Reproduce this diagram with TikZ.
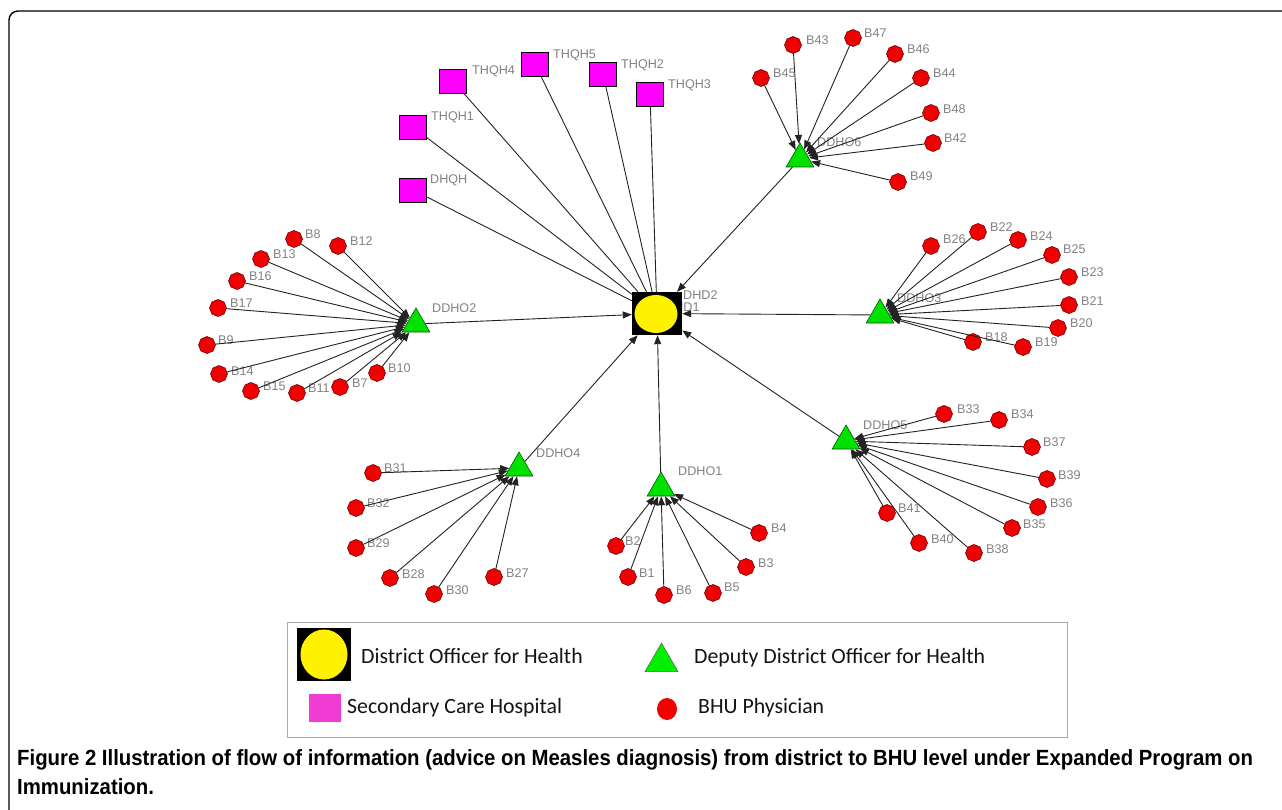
\documentclass[tikz,border=0pt]{standalone}
\usepackage{fontspec}
\setmainfont{Liberation Sans}
\newfontfamily\legfont{Carlito}
\usetikzlibrary{shapes.geometric,arrows.meta}
\definecolor{labgray}{RGB}{130,130,130}
\definecolor{edgec}{RGB}{35,35,35}
\definecolor{hospm}{RGB}{255,0,255}
\definecolor{ddhog}{RGB}{0,225,0}
\definecolor{bhur}{RGB}{240,0,0}
\definecolor{legpink}{RGB}{240,60,210}
\tikzset{
  lab/.style={anchor=west,inner sep=0pt,text=labgray,font=\fontsize{12.6}{14}\selectfont},
  bhu/.style={regular polygon,regular polygon sides=8,shape border rotate=22.5,minimum size=17pt,inner sep=0pt,fill=bhur,draw={rgb,255:red,120;green,0;blue,0},line width=0.6pt},
  ddho/.style={regular polygon,regular polygon sides=3,minimum size=32pt,inner sep=0pt,fill=ddhog,draw={rgb,255:red,0;green,90;blue,0},line width=0.6pt},
  hosp/.style={rectangle,minimum width=27pt,minimum height=24pt,inner sep=0pt,fill=hospm,draw=black,line width=0.8pt},
  ln/.style={draw=edgec,line width=0.9pt},
  arr/.style={ln,-{Triangle[length=9pt,width=7pt]}},
  legtxt/.style={anchor=west,inner sep=0pt,font=\legfont\fontsize{21.8}{24}\selectfont,text={rgb,255:red,20;green,20;blue,20}},
}
\begin{document}
\begin{tikzpicture}[x=1pt,y=-1pt]
\useasboundingbox (0,0) rectangle (1282,810);
\fill[white] (0,0) rectangle (1282,810);
% frame
\draw[line width=1.4pt,rounded corners=9pt] (9,815) -- (9,11) -- (1290,11);

% central node
\node[lab] (lbdhd1) at (665,307) {DHD1};
\node[rectangle,fill=black,minimum width=50pt,minimum height=43pt,inner sep=0pt] (doh) at (657,313.5) {};
\node[ellipse,fill=yellow,minimum width=43pt,minimum height=38pt,inner sep=0pt] (dohc) at (656,314) {};
\node[lab] (lbdhd2) at (683,295) {DHD2};

% hospitals
\foreach \n/\x/\y/\lx/\ly in {THQH4/453/81/472/71, THQH5/535/64/553/55, THQH2/603/74/621/65, THQH3/650/94/668/85, THQH1/413/127/431/117.5, DHQH/413/190/430/180.5}{
  \node[hosp] (\n) at (\x,\y) {};
  \node[lab] (l\n) at (\lx,\ly) {\n};
  \draw[ln] (\n) -- (doh);
}

% deputy officers
\foreach \n/\x/\y in {d6/800/159, d2/416/324, d3/880/315, d4/519/468, d1/661/488, d5/846/441}{
  \node[ddho] (\n) at (\x,\y) {};
}
\node[lab] (ld6) at (817,142) {DDHO6};
\node[lab] (ld2) at (432,308) {DDHO2};
\node[lab] (ld3) at (897,298) {DDHO3};
\node[lab] (ld4) at (536,453) {DDHO4};
\node[lab] (ld1) at (678,471) {DDHO1};
\node[lab] (ld5) at (863,425) {DDHO5};
\foreach \n in {d6,d2,d3,d4,d1,d5}{ \draw[arr] (\n) -- (doh); }

% BHU physicians
\foreach \n/\x/\y/\lx/\ly/\p in {
  B43/793/45/806/40/d6, B47/853/38/864/33/d6, B46/895/54/907/49/d6, B44/921/78/933/73/d6,
  B48/931/113/943/109/d6, B42/933/143/944/138/d6, B49/898/182/910/176/d6, B45/761/78/773/73/d6,
  B8/294/239/305/234/d2, B12/338/246/350/241/d2, B13/261/259/273/254/d2, B16/237/281/249/276/d2,
  B17/218/308/230/303/d2, B9/207/345/218/340/d2, B14/219/374/231/371/d2, B15/251/391/263/386/d2,
  B11/297/393/308/388/d2, B7/340/387/352/383/d2, B10/377/373/388/368/d2,
  B26/931/246/943/239/d3, B22/978/232/990/227/d3, B24/1018/240/1030/236/d3, B25/1052/255/1063/249/d3,
  B23/1069/277/1081/272/d3, B21/1069/305/1081/301/d3, B20/1058/328/1070/323/d3, B18/973/342/985/337/d3,
  B19/1023/347/1035/342/d3,
  B31/373/473/384/468/d4, B32/356/508/367/503/d4, B29/356/548/367/543/d4, B28/390/578/402/574/d4,
  B30/434/594/446/590/d4, B27/494/577/506/573/d4,
  B2/616/546/625/541/d1, B1/628/577/639/573/d1, B6/664/595/676/590/d1, B5/713/593/724/587/d1,
  B3/746/567/758/563/d1, B4/759/533/771/528/d1,
  B33/944/414/957/409/d5, B34/999/420/1011/414/d5, B37/1032/447/1043/442/d5, B39/1047/479/1058/475/d5,
  B36/1038/507/1050/503/d5, B35/1012/528/1023/524/d5, B38/974/553/986/549/d5, B40/919/543/931/539/d5,
  B41/887/513/898/508/d5}{
  \node[bhu] (\n) at (\x,\y) {};
  \node[lab] (l\n) at (\lx,\ly) {\n};
  \draw[arr] (\n) -- (\p);
}

% legend
\draw[draw={rgb,255:red,170;green,170;blue,170},line width=0.8pt] (287,622) rectangle (1067,737);
\node[rectangle,fill=black,minimum width=54pt,minimum height=53pt,inner sep=0pt] (lgdoh) at (324,654.5) {};
\node[ellipse,fill=yellow,minimum width=47pt,minimum height=50pt,inner sep=0pt] (lgdohc) at (324,654.5) {};
\node[legtxt] (lt1) at (361,656) {District Officer for Health};
\node[regular polygon,regular polygon sides=3,minimum size=38pt,inner sep=0pt,fill={rgb,255:red,0;green,240;blue,0},draw={rgb,255:red,90;green,90;blue,90},line width=0.5pt] (lgdd) at (661.5,662) {};
\node[legtxt] (lt2) at (694,658) {Deputy District Officer for Health};
\node[rectangle,fill=legpink,minimum width=32pt,minimum height=28pt,inner sep=0pt] (lgh) at (325,708) {};
\node[legtxt] (lt3) at (347,708) {Secondary Care Hospital};
\node[ellipse,fill=bhur,minimum width=20pt,minimum height=22pt,inner sep=0pt] (lgb) at (667,709) {};
\node[legtxt] (lt4) at (698,708) {BHU Physician};

% caption
\node[anchor=base west,inner sep=0pt,font=\fontsize{22}{26}\selectfont\bfseries] (cap1) at (17,765) {\scalebox{0.925}[1]{Figure 2 Illustration of flow of information (advice on Measles diagnosis) from district to BHU level under Expanded Program on}};
\node[anchor=base west,inner sep=0pt,font=\fontsize{22}{26}\selectfont\bfseries] (cap2) at (17,794) {\scalebox{0.925}[1]{Immunization.}};
\end{tikzpicture}
\end{document}
